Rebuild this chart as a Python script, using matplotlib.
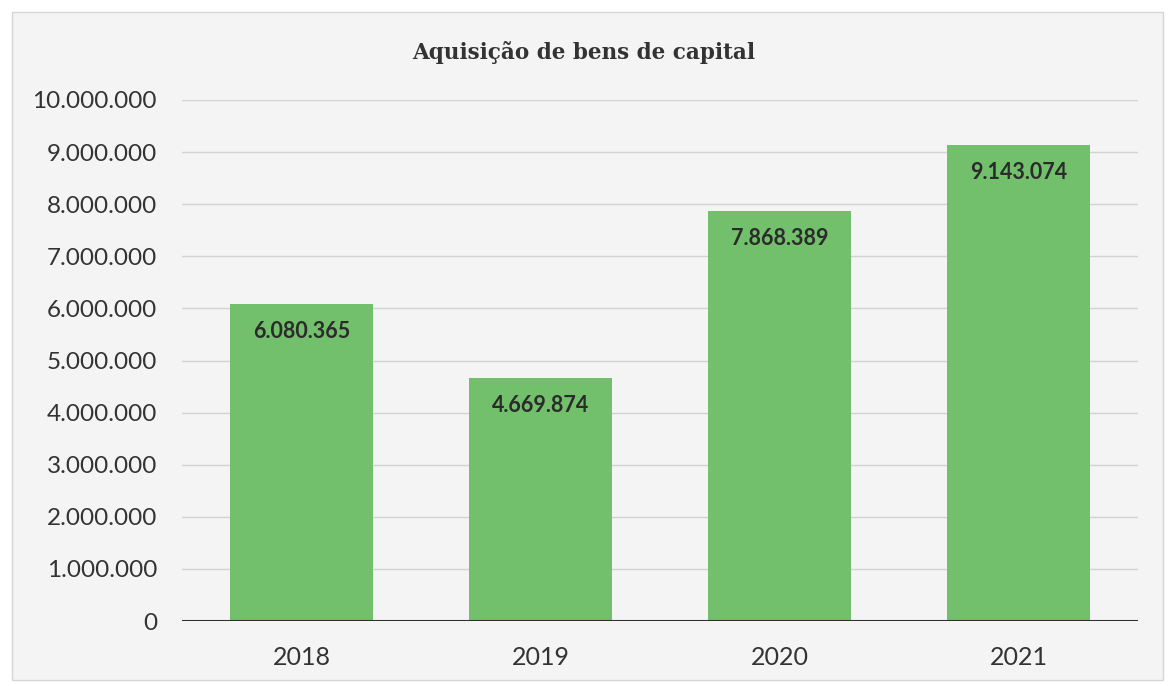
import matplotlib.pyplot as plt
import matplotlib.patches as patches
from matplotlib.ticker import FuncFormatter

years = ["2018", "2019", "2020", "2021"]
values = [6080365, 4669874, 7868389, 9143074]
title = "Aquisição de bens de capital"


def fmt_br(v, pos=None):
    return f"{int(v):,}".replace(",", ".")


def main():
    fig = plt.figure(figsize=(11.68, 6.86), dpi=100, facecolor="white")
    # scanned chart panel, kept behind the axes
    panel = patches.Rectangle((12 / 1168, 6 / 686), 1151 / 1168, 668 / 686,
                              transform=fig.transFigure, facecolor="#f4f4f4",
                              edgecolor="#d6d6d6", linewidth=1.0, zorder=-10)
    fig.patches.append(panel)

    ax = fig.add_axes([182 / 1168, 65 / 686, 956 / 1168, 521 / 686])
    ax.set_facecolor("none")

    x = range(len(years))
    bars = ax.bar(x, values, width=0.6, color="#72c06b", zorder=3)

    ax.set_xlim(-0.5, len(years) - 0.5)
    ax.set_ylim(0, 10000000)
    ax.set_yticks(range(0, 10000001, 1000000))
    ax.yaxis.set_major_formatter(FuncFormatter(fmt_br))
    ax.set_xticks(list(x))
    ax.set_xticklabels(years)

    ax.grid(axis="y", color="#d2d2d2", linewidth=1.0, zorder=0)
    ax.axhline(0, color="#2e2e2e", linewidth=2.2, zorder=4)
    for s in ax.spines.values():
        s.set_visible(False)
    ax.tick_params(length=0, labelcolor="#333333")
    ax.tick_params(axis="y", pad=18, labelsize=17.5)
    ax.tick_params(axis="x", pad=18, labelsize=18)
    for lab in ax.get_xticklabels() + ax.get_yticklabels():
        lab.set_fontfamily("Lato")

    for b, v in zip(bars, values):
        ax.annotate(fmt_br(v), (b.get_x() + b.get_width() / 2, v),
                    xytext=(0, -20), textcoords="offset points",
                    ha="center", va="center", fontsize=15.5, fontweight="bold",
                    family="Lato", color="#2b2b2b", zorder=5)

    fig.text(0.5, 1 - 53 / 686, title, ha="center", va="center",
             fontsize=15.5, fontweight="bold", family="DejaVu Serif",
             color="#333333")

    fig.savefig("out.png", dpi=100, facecolor=fig.get_facecolor())


if __name__ == "__main__":
    main()
